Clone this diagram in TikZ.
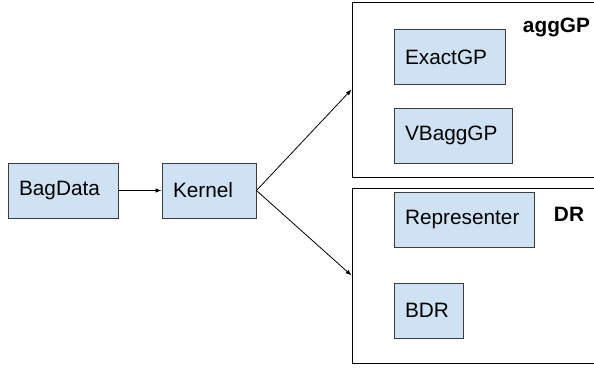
\documentclass[tikz,border=0pt]{standalone}
\usepackage{fontspec}
\setmainfont{Liberation Sans}
\usepackage{tikz}
\usetikzlibrary{arrows.meta,positioning}
\definecolor{bxFill}{RGB}{207,226,243}
\definecolor{bxLine}{RGB}{ 60, 60, 60}

\begin{document}
\begin{tikzpicture}[
  x=1pt,y=1pt,
  >={Latex[length=6pt,width=4.5pt]},
  every node/.style={font=\fontsize{20.8}{25}\selectfont},
  blk/.style ={draw=bxLine,fill=bxFill,line width=0.9pt,align=left,
               minimum height=55pt,inner xsep=11pt,inner ysep=0pt},
  grp/.style ={draw=black,line width=0.9pt,minimum width=250pt,
               inner sep=0pt},
  tag/.style ={font=\fontsize{20.8}{25}\selectfont\bfseries,
               anchor=base,inner sep=0pt}
]
\useasboundingbox (0,0) rectangle (594,369);
\clip (0,0) rectangle (594,369);

% input side
\node[blk,text width=88pt] (bag)  at (63,178.5)  {BagData};
\node[blk,text width=72pt] (kern) at (209,178.5) {Kernel};

% model groups (open to the right)
\node[grp,minimum height=175pt] (agg) at (477,279.5) {};
\node[grp,minimum height=175pt] (dr)  at (477,93.5)  {};
\node[tag] (aggl) at (556.5,336) {aggGP};
\node[tag] (drl)  at (569,147)   {DR};

% members
\node[blk,text width=89pt]  (exact) at (449.5,312)  {ExactGP};
\node[blk,text width=96pt]  (vb)    at (453,233.5)  {VBaggGP};
\node[blk,text width=118pt] (rep)   at (464,149.5)  {Representer};
\node[blk,text width=47pt]  (bdr)   at (428.5,58.5) {BDR};

% arrows
\draw[->,line width=0.8pt] (bag) -- (kern);
\draw[->,line width=0.8pt] (kern.east) -- (agg.west);
\draw[->,line width=0.8pt] (kern.east) -- (dr.west);
\end{tikzpicture}
\end{document}
